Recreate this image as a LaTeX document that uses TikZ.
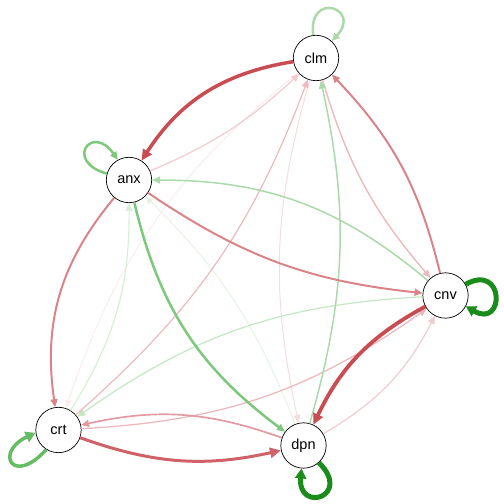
\documentclass[tikz,border=0pt]{standalone}
\usepackage{fontspec}
\setmainfont{Liberation Sans}
\usetikzlibrary{arrows.meta}
\definecolor{rA}{RGB}{201,76,82}
\definecolor{rB}{RGB}{206,98,104}
\definecolor{rC}{RGB}{218,132,137}
\definecolor{rD}{RGB}{226,155,160}
\definecolor{rE}{RGB}{236,185,190}
\definecolor{rF}{RGB}{241,203,208}
\definecolor{rG}{RGB}{246,220,223}
\definecolor{rH}{RGB}{250,236,238}
\definecolor{gA}{RGB}{26,140,26}
\definecolor{gB}{RGB}{100,188,100}
\definecolor{gC}{RGB}{125,200,125}
\definecolor{gD}{RGB}{170,218,170}
\definecolor{gE}{RGB}{195,230,195}
\definecolor{gF}{RGB}{215,238,215}
\definecolor{gG}{RGB}{228,243,228}
\begin{document}
\begin{tikzpicture}[x=1pt,y=1pt,
  nd/.style={circle,draw=black,line width=0.7pt,fill=white,minimum size=45.4pt,inner sep=0pt,font=\fontsize{14.5}{16}\selectfont},
  ed/.style 2 args={draw=#1,line width=#2pt},
  ta/.style={-{Triangle[length=8pt,width=7pt]}},
  tb/.style={-{Triangle[length=11pt,width=10pt]}},
  tc/.style={-{Triangle[length=10pt,width=11pt]}}
]
\useasboundingbox (0,0) rectangle (504,504);
\node[nd] (clm) at (316,446) {clm};
\node[nd] (anx) at (129,324) {anx};
\node[nd] (cnv) at (445.5,208.5) {cnv};
\node[nd] (crt) at (58.5,74) {crt};
\node[nd] (dpn) at (303.5,58.5) {dpn};

% faint edges first
\draw[ed={rH}{1},ta] (clm) to[bend right=16] (crt);
\draw[ed={gG}{1},ta] (dpn) to[bend right=12] (anx);
\draw[ed={rG}{1},ta] (clm) to[bend right=14] (dpn);
\draw[ed={gF}{1.2},ta] (crt) to[bend right=16] (anx);
\draw[ed={gE}{1.2},ta] (cnv) to[bend right=16] (crt);
\draw[ed={rF}{1.2},ta] (anx) to[bend right=10] (clm);
\draw[ed={rF}{1.2},ta] (dpn) to[bend right=16] (cnv);
\draw[ed={rE}{1.2},ta] (crt) to[bend right=14] (clm);
\draw[ed={rE}{1.3},ta] (crt) to[bend right=16] (cnv);
\draw[ed={rE}{1.4},ta] (clm) to[bend right=12] (cnv);
\draw[ed={gD}{1.5},ta] (cnv) to[bend right=20] (anx);
\draw[ed={gD}{1.5},ta] (dpn) to[bend right=14] (clm);
\draw[ed={rD}{1.7},ta] (dpn) to[bend right=16] (crt);
% medium
\draw[ed={rC}{2},ta] (cnv) to[bend right=15] (clm);
\draw[ed={rC}{2},ta] (anx) to[bend right=14] (cnv);
\draw[ed={rC}{2},ta] (anx) to[bend right=24] (crt);
\draw[ed={gC}{2.5},ta] (anx) to[bend right=20] (dpn);
% strong
\draw[ed={rB}{3},tb] (crt) to[bend right=16] (dpn);
\draw[ed={rA}{3.5},tb] (clm) to[bend right=24] (anx);
\draw[ed={rA}{3.8},tb] (cnv) to[bend right=18] (dpn);

% self loops
\draw[ed={gD}{2.5},ta] (clm.97) .. controls +(97:45) and +(47:45) .. (clm.47);
\draw[ed={gC}{2.5},ta] (anx.164) .. controls +(164:45) and +(125:45) .. (anx.119);
\draw[ed={gA}{5},tc] (cnv.29) .. controls +(29:45) and +(-30:45) .. (cnv.-28);
\draw[ed={gA}{5},tc] (dpn.-48) .. controls +(-45:48) and +(-95:45) .. (dpn.-95);
\draw[ed={gB}{3.5},tc] (crt.-122) .. controls +(-132:50) and +(205:46) .. (crt.187);
\end{tikzpicture}
\end{document}
